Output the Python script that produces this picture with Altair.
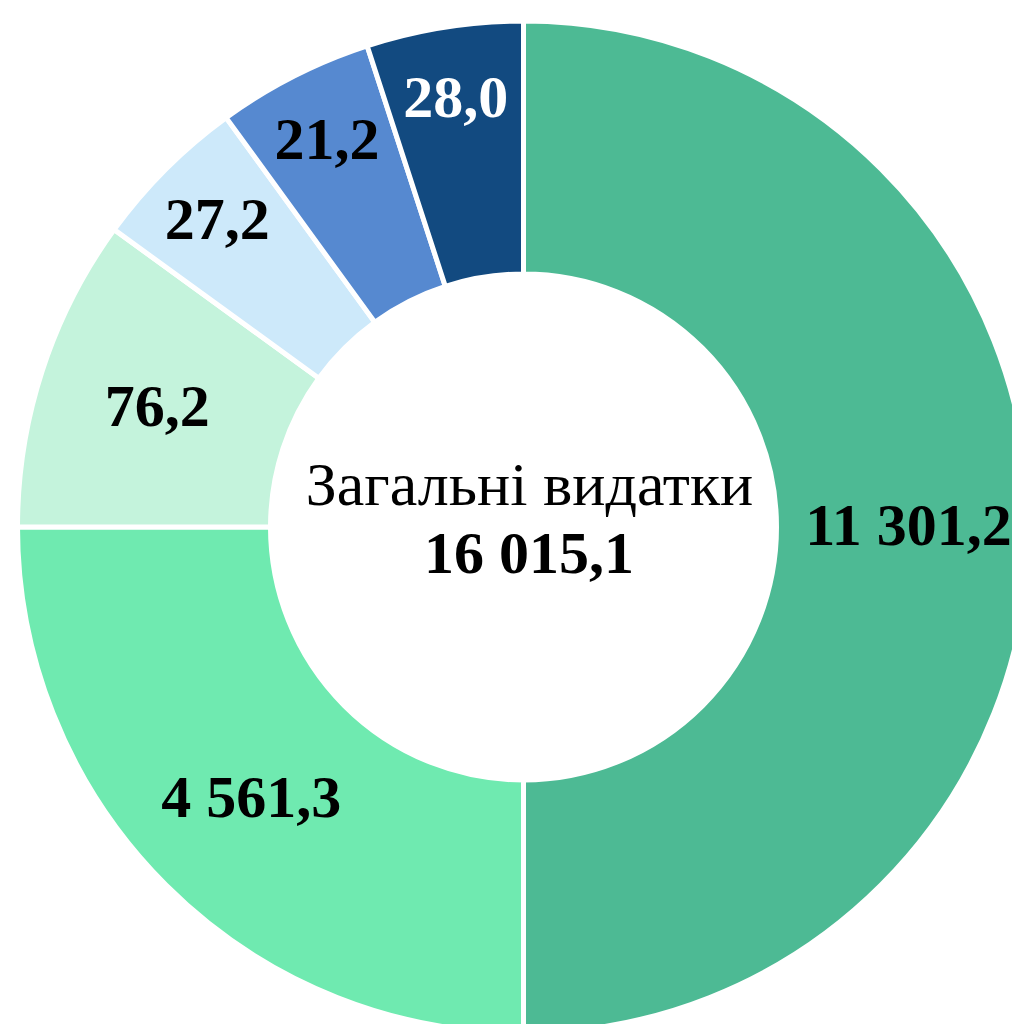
import altair as alt
import pandas as pd

# ---- data ----
categories = ["Категорія 1", "Категорія 2", "Категорія 3", "Категорія 4", "Категорія 5", "Категорія 6"]
values = [11301.2, 4561.3, 76.2, 27.2, 21.2, 28.0]
value_labels = ["11 301,2", "4 561,3", "76,2", "27,2", "21,2", "28,0"]
# angular share of each slice as drawn in the reference (degrees)
slice_degrees = [180, 90, 36, 18, 18, 18]
colors = ["#4DBA94", "#6FEAB0", "#C4F3DC", "#CDE9FA", "#5689D0", "#124A80"]
center_title = "Загальні видатки"
center_total = "16 015,1"

df = pd.DataFrame({
    "cat": categories,
    "value": values,
    "label": value_labels,
    "deg": slice_degrees,
    "idx": list(range(len(categories))),
})

CX, CY = 515.5, 519
FONT = "Liberation Serif"

base = alt.Chart(df).encode(
    theta=alt.Theta("deg:Q", stack=True),
    order=alt.Order("idx:Q", sort="ascending"),
    x=alt.value(CX),
    y=alt.value(CY),
)

arcs = base.mark_arc(
    outerRadius=506, innerRadius=253, stroke="white", strokeWidth=5
).encode(
    color=alt.Color("cat:N", scale=alt.Scale(domain=categories, range=colors), legend=None)
)

big_labels = base.mark_text(
    radius=385, font=FONT, fontSize=60, fontWeight="bold", align="center", baseline="middle"
).encode(
    text=alt.condition("datum.idx < 3", alt.Text("label:N"), alt.value("")),
    color=alt.value("black"),
)

small_labels = base.mark_text(
    radius=433, font=FONT, fontSize=60, fontWeight="bold", align="center", baseline="middle"
).encode(
    text=alt.condition("datum.idx >= 3", alt.Text("label:N"), alt.value("")),
    color=alt.condition("datum.idx == 5", alt.value("white"), alt.value("black")),
)

title_txt = alt.Chart(pd.DataFrame({"t": [center_title]})).mark_text(
    font=FONT, fontSize=62, align="center", baseline="alphabetic", color="black"
).encode(text="t:N", x=alt.value(521.5), y=alt.value(497))

total_txt = alt.Chart(pd.DataFrame({"t": [center_total]})).mark_text(
    font=FONT, fontSize=60, fontWeight="bold", align="center", baseline="alphabetic", color="black"
).encode(text="t:N", x=alt.value(521), y=alt.value(565))

chart = alt.layer(arcs, big_labels, small_labels, title_txt, total_txt).properties(
    width=1004, height=1016, padding=0, autosize="none"
).configure_view(stroke=None)

chart.save("out.html", embed_options={"renderer": "svg", "actions": False})
